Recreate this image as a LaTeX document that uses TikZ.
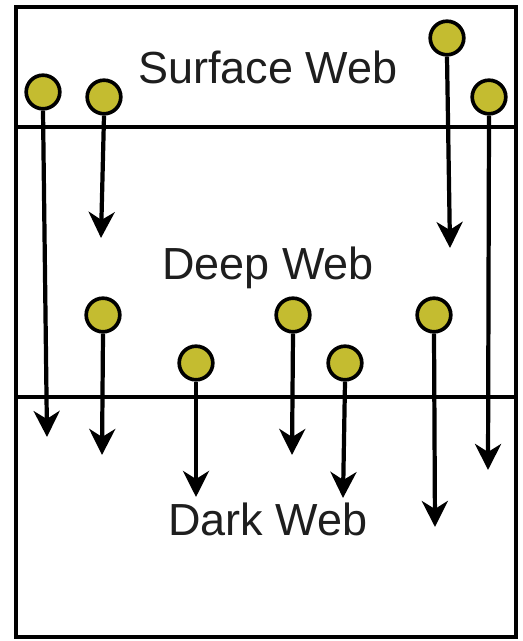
\documentclass[tikz,border=0pt]{standalone}
\usepackage{fontspec}
\setmainfont{Liberation Sans}
\usepackage{tikz}
\usetikzlibrary{arrows.meta,positioning}
\usepackage{xcolor}
\definecolor{webyellow}{RGB}{196,188,48}
\definecolor{webtext}{RGB}{30,30,30}
\tikzset{
    webdot/.style={
        circle,draw=black,line width=2.6pt,fill=webyellow,
        minimum size=0.84cm,inner sep=0pt
    },
    layer/.style={
        font=\fontsize{32}{36}\selectfont,text=webtext
    },
    fall/.style={
        -{Stealth[length=6.5mm,width=6.5mm,inset=2mm]},line width=3pt,draw=black
    }
}
\begin{document}
\begin{tikzpicture}
\useasboundingbox (0,0) rectangle (13.05,16.025);

% frame and layer borders
\draw[line width=3pt] (0.40,0.10) rectangle (12.90,15.85);
\draw[line width=2.4pt] (0.40,12.85) -- (12.90,12.85);
\draw[line width=2.4pt] (0.40,6.10) -- (12.90,6.10);

% layer names
\node[layer] (surface) at (6.70,14.33) {Surface Web};
\node[layer] (deep) at (6.70,9.33) {Deep Web};
\node[layer] (dark) at (6.70,3.03) {Dark Web};

% markers in the surface web
\node[webdot] (s1) at (1.075,13.725) {};
\node[webdot] (s2) at (2.60,13.60) {};
\node[webdot] (s3) at (11.175,15.075) {};
\node[webdot] (s4) at (12.225,13.60) {};

% markers in the deep web
\node[webdot] (d1) at (2.575,8.15) {};
\node[webdot] (d2) at (4.90,6.95) {};
\node[webdot] (d3) at (7.325,8.15) {};
\node[webdot] (d4) at (8.625,6.95) {};
\node[webdot] (d5) at (10.85,8.15) {};

% where the arrows end
\coordinate (s1end) at (1.175,5.10);
\coordinate (s2end) at (2.525,10.075);
\coordinate (s3end) at (11.25,9.825);
\coordinate (s4end) at (12.20,4.275);
\coordinate (d1end) at (2.55,4.65);
\coordinate (d2end) at (4.90,3.60);
\coordinate (d3end) at (7.30,4.65);
\coordinate (d4end) at (8.575,3.575);
\coordinate (d5end) at (10.875,2.85);

\foreach \m in {s1,s2,s3,s4,d1,d2,d3,d4,d5}
    \draw[fall] (\m.south) -- (\m end);

\end{tikzpicture}
\end{document}
